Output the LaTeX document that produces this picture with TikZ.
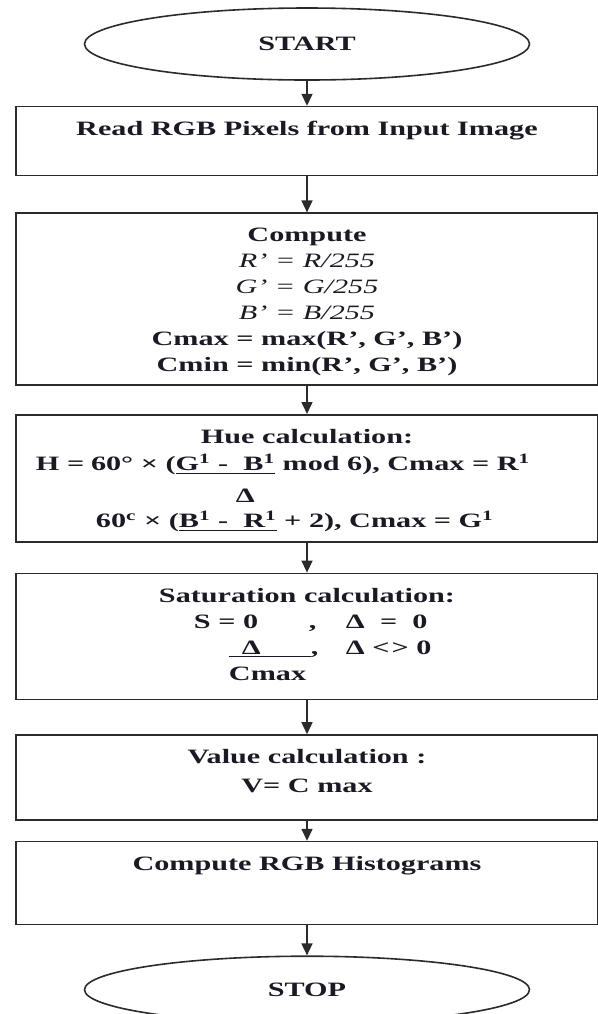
\documentclass[tikz,border=0pt]{standalone}
\usepackage{fontspec}
\setmainfont{Liberation Serif}[FakeStretch=1.48]
\usepackage{tikz}
\usetikzlibrary{shapes.geometric, arrows.meta, positioning}
\definecolor{inkline}{HTML}{2B2B2B}
\definecolor{inktext}{HTML}{1A1A24}

\newcommand{\boxtext}[2]{\parbox[c][#1][t]{291pt}{\centering\rule{0pt}{14.3pt}#2}}
\newcommand{\putat}[2]{\rlap{\hspace*{#1}#2}}
\newcommand{\fixline}[1]{\makebox[\linewidth][l]{#1}}

\begin{document}
\begin{tikzpicture}[
  x=1pt, y=1pt,
  font=\fontsize{10.2}{13}\selectfont\bfseries,
  terminal/.style={
    ellipse, draw=inkline, line width=0.8pt, text=inktext,
    minimum width=222.5pt, minimum height=36pt, inner sep=0pt
  },
  proc/.style={
    rectangle, draw=inkline, line width=0.8pt, text=inktext,
    inner sep=0pt
  },
  arr/.style={-{Triangle[length=6pt, width=5.5pt]}, line width=0.75pt, inkline}
]
  \useasboundingbox (0,0) rectangle (299,-507);

  \node[terminal] (start) at (153.5,-22) {START};
  \node[proc, below=12.5pt of start] (read) {\boxtext{34.5pt}{Read RGB Pixels from Input Image}};
  \node[proc, below=18pt of read] (comp) {\boxtext{86pt}{Compute\\
    \mdseries\itshape R' = R/255\\ G' = G/255\\ B' = B/255\\
    \upshape\bfseries Cmax = max(R', G', B')\\ Cmin = min(R', G', B')}};
  \node[proc, below=14pt of comp] (hue) {\boxtext{63.5pt}{Hue calculation:\\[0.5pt]
    \fixline{\putat{10pt}{H =}\putat{37.5pt}{60° × (\underline{G\textsuperscript{1} -\ \ B\textsuperscript{1}} mod 6), Cmax = R\textsuperscript{1}}}\\[3pt]
    \fixline{\putat{110pt}{Δ}}\\[-0.5pt]
    \fixline{\putat{40pt}{60\textsuperscript{c} × (\underline{B\textsuperscript{1} -\ \ R\textsuperscript{1}} + 2), Cmax = G\textsuperscript{1}}}}};
  \node[proc, below=15pt of hue] (sat) {\boxtext{63pt}{Saturation calculation:\\
    \fixline{\putat{89pt}{S = 0}\putat{146.5pt}{,}\putat{165pt}{Δ \ = \ 0}}\\
    \fixline{\putat{106.5pt}{\underline{\makebox[41pt][l]{\hspace*{6.5pt}Δ}},}\putat{165pt}{Δ <\kern1pt> 0}}\\
    \fixline{\putat{106.5pt}{Cmax}}}};
  \node[proc, below=17pt of sat] (val) {\boxtext{42.5pt}{Value calculation :\\[1.5pt] V= C max}};
  \node[proc, below=10pt of val] (hist) {\boxtext{41.5pt}{Compute RGB Histograms}};
  \node[terminal, minimum height=33.5pt, below=15pt of hist] (stop) {STOP};

  \draw[arr] (start) -- (read);
  \draw[arr] (read) -- (comp);
  \draw[arr] (comp) -- (hue);
  \draw[arr] (hue) -- (sat);
  \draw[arr] (sat) -- (val);
  \draw[arr] (val) -- (hist);
  \draw[arr] (hist) -- (stop);
\end{tikzpicture}
\end{document}
